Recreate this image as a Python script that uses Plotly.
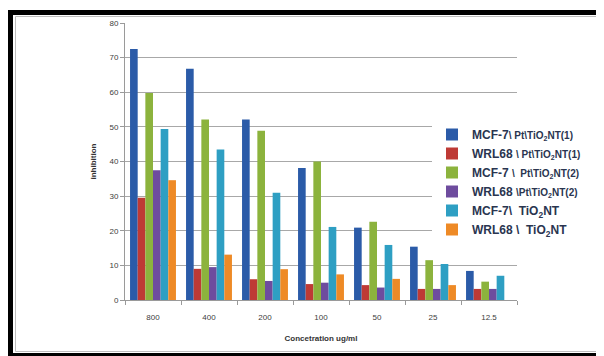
import plotly.graph_objects as go

categories = ["800", "400", "200", "100", "50", "25", "12.5"]

mcf7_pt1 = [72.5, 66.8, 52.1, 38.1, 20.9, 15.4, 8.4]
wrl68_pt1 = [29.5, 9.0, 6.0, 4.6, 4.3, 3.2, 3.2]
mcf7_pt2 = [59.8, 52.1, 48.9, 40.0, 22.6, 11.5, 5.3]
wrl68_pt2 = [37.5, 9.5, 5.5, 5.0, 3.6, 3.2, 3.2]
mcf7_tio2 = [49.4, 43.5, 31.0, 21.1, 15.9, 10.4, 7.0]
wrl68_tio2 = [34.6, 13.1, 8.9, 7.4, 6.1, 4.3, None]

series_names = [
    "<b>MCF-7<span style='font-size:10px'>\\ Pt\\TiO<sub>2</sub>NT(1)</span></b>",
    "<b>WRL68 <span style='font-size:10px'>\\ Pt\\TiO<sub>2</sub>NT(1)</span></b>",
    "<b>MCF-7 <span style='font-size:10px'>\\  Pt\\TiO<sub>2</sub>NT(2)</span></b>",
    "<b>WRL68 <span style='font-size:10px'>\\Pt\\TiO<sub>2</sub>NT(2)</span></b>",
    "<b>MCF-7\\  TiO<sub>2</sub>NT</b>",
    "<b>WRL68 \\  TiO<sub>2</sub>NT</b>",
]
series_values = [mcf7_pt1, wrl68_pt1, mcf7_pt2, wrl68_pt2, mcf7_tio2, wrl68_tio2]
colors = ["#2B5BA8", "#BE3A35", "#8CB33D", "#6E4C9E", "#2E9FC3", "#EE8A26"]

fig = go.Figure()
for name, vals, col in zip(series_names, series_values, colors):
    fig.add_trace(go.Bar(x=categories, y=vals, name=name, marker_color=col,
                         marker_line_width=0))

# The page body adds an 8px offset; work in reference pixels and shift.
OFF = 8
FW, FH = 604 - OFF, 356 - OFF
# plot area in reference pixels: x 125..517, y 23..300
L, R, T, B = 125, 517, 23, 300
W, H = R - L, B - T
def px(x):
    return (x - L) / W
def py(y):
    return (B - y) / H

shapes = []
def rect(x0, y0, x1, y1, color, line=None):
    d = dict(type="rect", xref="paper", yref="paper",
             x0=px(x0), x1=px(x1), y0=py(y1), y1=py(y0), layer="above")
    if line is None:
        d.update(fillcolor=color, line=dict(width=0))
    else:
        d.update(fillcolor="rgba(0,0,0,0)", line=dict(color=color, width=line))
    return d

shapes.append(rect(15.5, 16.5, 597.5, 351.5, "#BDBDBD", line=1))
shapes.append(rect(8, 10, 13, 356, "#000000"))
shapes.append(rect(8, 10, 601, 15, "#000000"))
shapes.append(rect(8, 353, 601, 356, "#000000"))
shapes.append(rect(598, 10, 601, 356, "#6E6E6E"))

fig.update_layout(
    width=FW, height=FH,
    margin=dict(l=L - OFF, r=604 - R, t=T - OFF, b=356 - B, autoexpand=False),
    paper_bgcolor="white", plot_bgcolor="white",
    barmode="group", bargap=0.18, bargroupgap=0,
    font=dict(family="Liberation Sans, Arial, sans-serif", size=8, color="#404040"),
    showlegend=True,
    legend=dict(x=px(432), y=py(120), xanchor="left", yanchor="top",
                bgcolor="white", borderwidth=0,
                font=dict(family="Liberation Sans, Arial, sans-serif", size=12, color="#2A3550"),
                itemwidth=30, tracegroupgap=0),
    shapes=shapes,
    xaxis=dict(type="category", showline=True, linecolor="#9A9A9A", linewidth=1,
               ticks="outside", tickson="boundaries", ticklen=4, tickcolor="#9A9A9A",
               tickfont=dict(size=8, color="#404040"), ticklabelstandoff=9,
               title=dict(text="<b>Concetration ug/ml</b>", font=dict(size=8, color="#333333"),
                          standoff=14),
               showgrid=False, automargin=False),
    yaxis=dict(range=[0, 80], dtick=10, showline=True, linecolor="#9A9A9A", linewidth=1,
               ticks="outside", ticklen=4, tickcolor="#9A9A9A",
               tickfont=dict(size=8, color="#404040"),
               showgrid=True, gridcolor="#A8A8A8", gridwidth=1, zeroline=False,
               automargin=False,
               title=dict(text="<b>inhibition</b>", font=dict(size=8, color="#333333"),
                          standoff=11)),
)

fig.write_html("out.html")
